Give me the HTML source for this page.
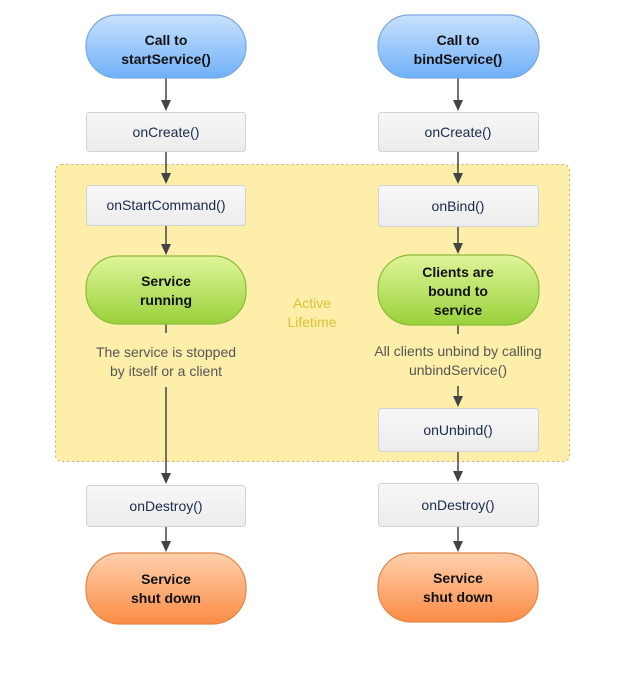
<!DOCTYPE html>
<html><head><meta charset="utf-8"><style>
html,body{margin:0;padding:0;background:#fff;}
svg{display:block;font-family:"Liberation Sans",Arial,sans-serif;}
</style></head><body>
<svg width="639" height="682" viewBox="0 0 639 682" xmlns="http://www.w3.org/2000/svg">
<defs>
<linearGradient id="blue" x1="0" y1="0" x2="0" y2="1"><stop offset="0" stop-color="#c9e2ff"/><stop offset="1" stop-color="#6fb0f7"/></linearGradient>
<linearGradient id="green" x1="0" y1="0" x2="0" y2="1"><stop offset="0" stop-color="#dff59a"/><stop offset="1" stop-color="#99d13a"/></linearGradient>
<linearGradient id="orange" x1="0" y1="0" x2="0" y2="1"><stop offset="0" stop-color="#ffd0ad"/><stop offset="1" stop-color="#fb8c45"/></linearGradient>
<linearGradient id="grey" x1="0" y1="0" x2="0" y2="1"><stop offset="0" stop-color="#f7f7f7"/><stop offset="1" stop-color="#ececec"/></linearGradient>
</defs>
<rect x="55.5" y="164.5" width="514" height="297" rx="6" fill="#fdefa9" stroke="#e0a070" stroke-width="1" stroke-dasharray="2,3"/>
<text x="312" y="308" font-size="14" fill="#d9c23a" text-anchor="middle">Active</text>
<text x="312" y="327" font-size="14" fill="#d9c23a" text-anchor="middle">Lifetime</text>
<g stroke="#444" stroke-width="1.5" fill="none">
<line x1="166" y1="78" x2="166" y2="102"/>
<line x1="166" y1="151" x2="166" y2="175"/>
<line x1="166" y1="225" x2="166" y2="246"/>
<line x1="166" y1="324" x2="166" y2="333"/>
<line x1="166" y1="387" x2="166" y2="475"/>
<line x1="166" y1="527" x2="166" y2="543"/>
<line x1="458" y1="78" x2="458" y2="102"/>
<line x1="458" y1="151" x2="458" y2="175"/>
<line x1="458" y1="226" x2="458" y2="245"/>
<line x1="458" y1="325" x2="458" y2="334"/>
<line x1="458" y1="386" x2="458" y2="398"/>
<line x1="458" y1="452" x2="458" y2="473"/>
<line x1="458" y1="526" x2="458" y2="543"/>
</g>
<g fill="#444">
<path d="M161,100 L171,100 L166,111 Z"/>
<path d="M161,173 L171,173 L166,184 Z"/>
<path d="M161,244 L171,244 L166,255 Z"/>
<path d="M161,473 L171,473 L166,484 Z"/>
<path d="M161,541 L171,541 L166,552 Z"/>
<path d="M453,100 L463,100 L458,111 Z"/>
<path d="M453,173 L463,173 L458,184 Z"/>
<path d="M453,243 L463,243 L458,254 Z"/>
<path d="M453,396 L463,396 L458,407 Z"/>
<path d="M453,471 L463,471 L458,482 Z"/>
<path d="M453,541 L463,541 L458,552 Z"/>
</g>
<g stroke-width="1.2">
<rect x="86" y="15" width="160" height="63" rx="31" fill="url(#blue)" stroke="#7aa8e0"/>
<rect x="378" y="15" width="161" height="63" rx="31" fill="url(#blue)" stroke="#7aa8e0"/>
<rect x="86" y="256" width="160" height="68" rx="32" fill="url(#green)" stroke="#8cba3c"/>
<rect x="378" y="255" width="161" height="70" rx="33" fill="url(#green)" stroke="#8cba3c"/>
<rect x="86" y="553" width="160" height="71" rx="34" fill="url(#orange)" stroke="#e0874a"/>
<rect x="378" y="553" width="160" height="69" rx="33" fill="url(#orange)" stroke="#e0874a"/>
</g>
<g fill="url(#grey)" stroke="#d2d2d2" stroke-width="1">
<rect x="86.5" y="112.5" width="159" height="39" rx="3"/>
<rect x="86.5" y="185.5" width="159" height="40" rx="3"/>
<rect x="86.5" y="485.5" width="159" height="41" rx="3"/>
<rect x="378.5" y="112.5" width="160" height="39" rx="3"/>
<rect x="378.5" y="185.5" width="160" height="41" rx="3"/>
<rect x="378.5" y="408.5" width="160" height="43" rx="3"/>
<rect x="378.5" y="483.5" width="160" height="43" rx="3"/>
</g>
<g font-size="14" font-weight="bold" fill="#111" text-anchor="middle">
<text x="166" y="45">Call to</text><text x="166" y="64">startService()</text>
<text x="458" y="45">Call to</text><text x="458" y="64">bindService()</text>
<text x="166" y="286">Service</text><text x="166" y="305">running</text>
<text x="458" y="277">Clients are</text><text x="458" y="296">bound to</text><text x="458" y="315">service</text>
<text x="166" y="584">Service</text><text x="166" y="603">shut down</text>
<text x="458" y="583">Service</text><text x="458" y="602">shut down</text>
</g>
<g font-size="14" fill="#1a2a4a" text-anchor="middle">
<text x="166" y="137">onCreate()</text>
<text x="166" y="210">onStartCommand()</text>
<text x="166" y="511">onDestroy()</text>
<text x="458" y="137">onCreate()</text>
<text x="458" y="211">onBind()</text>
<text x="458" y="435">onUnbind()</text>
<text x="458" y="510">onDestroy()</text>
</g>
<g font-size="14" fill="#555" text-anchor="middle">
<text x="166" y="357">The service is stopped</text>
<text x="166" y="376">by itself or a client</text>
<text x="458" y="356">All clients unbind by calling</text>
<text x="458" y="375">unbindService()</text>
</g>
</svg>
</body></html>
